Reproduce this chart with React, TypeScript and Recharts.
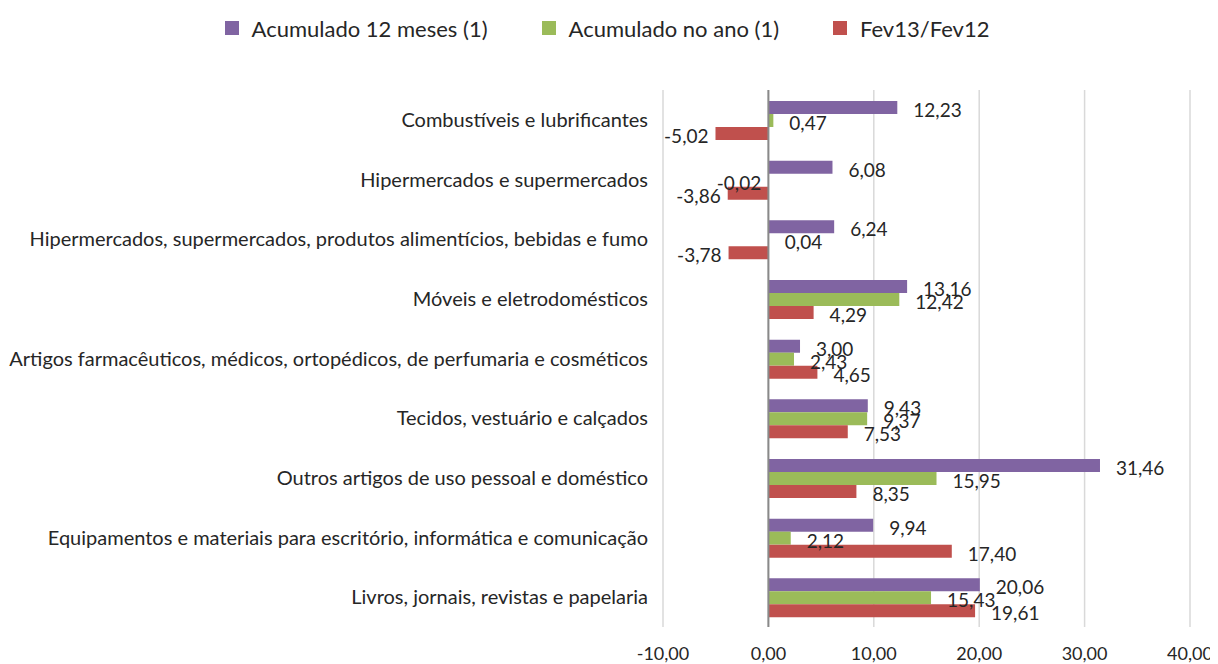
import { BarChart, Bar, XAxis, YAxis, CartesianGrid, Legend, ReferenceLine, LabelList } from "recharts";

const categories = [
  "Combustíveis e lubrificantes",
  "Hipermercados e supermercados",
  "Hipermercados, supermercados, produtos alimentícios, bebidas e fumo",
  "Móveis e eletrodomésticos",
  "Artigos farmacêuticos, médicos, ortopédicos, de perfumaria e cosméticos",
  "Tecidos, vestuário e calçados",
  "Outros artigos de uso pessoal e doméstico",
  "Equipamentos e materiais para escritório, informática e comunicação",
  "Livros, jornais, revistas e papelaria",
];
const acum12 = [12.23, 6.08, 6.24, 13.16, 3.0, 9.43, 31.46, 9.94, 20.06];
const acumAno = [0.47, -0.02, 0.04, 12.42, 2.43, 9.37, 15.95, 2.12, 15.43];
const fev = [-5.02, -3.86, -3.78, 4.29, 4.65, 7.53, 8.35, 17.4, 19.61];
const xTicks = [-10, 0, 10, 20, 30, 40];

const series = [
  { key: "acum12", name: "Acumulado 12 meses (1)", color: "#8064A2" },
  { key: "acumAno", name: "Acumulado no ano (1)", color: "#9BBB59" },
  { key: "fev", name: "Fev13/Fev12", color: "#C0504D" },
];

const data = categories.map((name, i) => ({
  name,
  acum12: acum12[i],
  acumAno: acumAno[i],
  fev: fev[i],
}));

const fmt = (v: number) => v.toFixed(2).replace(".", ",");

const ValueLabel = (props: any) => {
  const { x, y, width, height, value } = props;
  const left = Math.min(x, x + width);
  const right = Math.max(x, x + width);
  const neg = value < 0;
  return (
    <text
      x={neg ? left - 7 : right + 16}
      y={y + height / 2 + 2}
      textAnchor={neg ? "end" : "start"}
      dominantBaseline="central"
      fontSize={19}
      fill="#262626"
    >
      {fmt(value)}
    </text>
  );
};

const LegendBox = () => (
  <div style={{ height: 77, display: "flex", justifyContent: "center", paddingTop: 3, paddingLeft: 16, boxSizing: "border-box" }}>
    {series.map((s) => (
      <div key={s.key} style={{ display: "flex", alignItems: "center", margin: "0 27px", height: 24 }}>
        <span style={{ width: 14, height: 14, background: s.color, display: "inline-block", marginRight: 13 }} />
        <span style={{ fontSize: 22, color: "#262626" }}>{s.name}</span>
      </div>
    ))}
  </div>
);

export default function App() {
  return (
    <div style={{ fontFamily: "Lato, sans-serif" }}>
      <BarChart
        width={1210}
        height={656}
        data={data}
        layout="vertical"
        margin={{ top: 5, right: 28, bottom: 7, left: 0 }}
        barCategoryGap={11}
        barGap={0}
      >
        <Legend verticalAlign="top" content={<LegendBox />} />
        <CartesianGrid horizontal={false} stroke="#d9d9d9" strokeWidth={1.5} />
        <XAxis
          type="number"
          domain={[-10, 40]}
          ticks={xTicks}
          tickFormatter={fmt}
          axisLine={false}
          tickLine={false}
          tickSize={0}
          tickMargin={20}
          height={30}
          tick={{ fontSize: 18, fill: "#262626" }}
        />
        <YAxis
          type="category"
          dataKey="name"
          width={655}
          axisLine={false}
          tickLine={false}
          tickSize={0}
          tickMargin={15}
          interval={0}
          tick={{ fontSize: 20, fill: "#262626" }}
        />
        {series.map((s) => (
          <Bar key={s.key} dataKey={s.key} name={s.name} fill={s.color} isAnimationActive={false}>
            <LabelList dataKey={s.key} content={<ValueLabel />} />
          </Bar>
        ))}
        <ReferenceLine x={0} stroke="#898989" strokeWidth={2} />
      </BarChart>
    </div>
  );
}
